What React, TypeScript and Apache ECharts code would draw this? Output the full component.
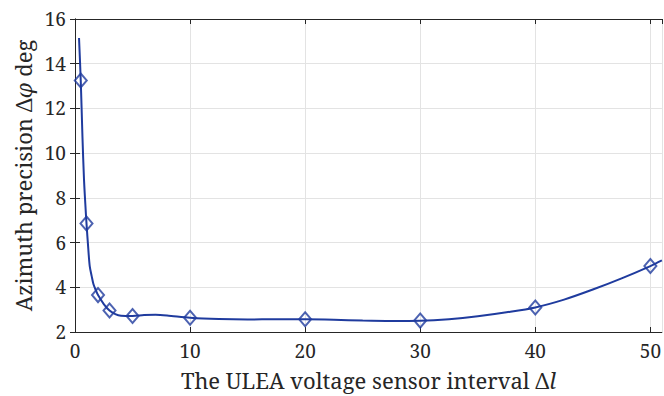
import React, { useEffect, useRef } from "react";
import * as echarts from "echarts";

const markerX = [0.5, 1, 2, 3, 5, 10, 20, 30, 40, 50];
const markerY = [13.25, 6.85, 3.65, 2.96, 2.72, 2.64, 2.57, 2.51, 3.1, 4.95];

const curveX = [0.35, 0.5, 0.65, 0.78, 0.9, 1.0, 1.15, 1.28, 1.45, 1.6, 1.8, 2, 2.5, 3, 3.5, 4, 5, 6, 7, 8, 10, 12.5, 15, 17.5, 20, 22.5, 25, 27.5, 30, 32.5, 35, 37.5, 40, 42.5, 45, 47.5, 50, 51];
const curveY = [15.15, 13.25, 10.7, 8.85, 7.7, 6.85, 5.75, 4.95, 4.5, 4.15, 3.88, 3.65, 3.25, 2.96, 2.8, 2.73, 2.72, 2.76, 2.77, 2.74, 2.64, 2.58, 2.56, 2.57, 2.57, 2.55, 2.51, 2.49, 2.5, 2.57, 2.7, 2.88, 3.1, 3.45, 3.9, 4.4, 4.95, 5.2];

const xTicks = [0, 10, 20, 30, 40, 50];
const yTicks = [2, 4, 6, 8, 10, 12, 14, 16];

const FONT = "Noto Serif";
const AX = "#262626";
const BLUE = "#1f3b9e";

export default function App() {
  const ref = useRef<HTMLDivElement>(null);
  useEffect(() => {
    if (!ref.current) return;
    const chart = echarts.init(ref.current, null, { renderer: "svg" });
    const tickStyle = { show: true, inside: true, length: 5, lineStyle: { color: AX, width: 1 } };
    const grid = { show: true, lineStyle: { color: "#e3e3e3", width: 1 } };
    chart.setOption({
      animation: false,
      backgroundColor: "#fff",
      textStyle: { fontFamily: FONT },
      grid: { left: 75, right: 1, top: 19, bottom: 62, containLabel: false },
      xAxis: [
        {
          type: "value",
          min: 0,
          max: 51,
          interval: 10,
          position: "bottom",
          axisLine: { show: true, lineStyle: { color: AX, width: 1 } },
          axisTick: tickStyle,
          splitLine: grid,
          axisLabel: {
            showMaxLabel: false,
            color: AX,
            fontFamily: FONT,
            fontSize: 19,
            margin: 9,
            formatter: (v: number) => (xTicks.includes(v) ? String(v) : ""),
          },
          name: "The ULEA voltage sensor interval Δ{i|l}",
          nameLocation: "middle",
          nameGap: 37,
          nameTextStyle: {
            color: AX,
            fontFamily: FONT,
            fontSize: 22,
            rich: { i: { fontStyle: "italic", fontFamily: FONT, fontSize: 22, color: AX } },
          },
        },
        {
          type: "value",
          min: 0,
          max: 51,
          interval: 10,
          position: "top",
          axisLine: { show: true, lineStyle: { color: AX, width: 1 } },
          axisTick: tickStyle,
          splitLine: { show: false },
          axisLabel: { show: false },
        },
      ],
      yAxis: [
        {
          type: "value",
          min: 2,
          max: 16,
          interval: 2,
          position: "left",
          axisLine: { show: true, lineStyle: { color: AX, width: 1 } },
          axisTick: tickStyle,
          splitLine: grid,
          axisLabel: {
            color: AX,
            fontFamily: FONT,
            fontSize: 19,
            margin: 9,
            formatter: (v: number) => (yTicks.includes(v) ? String(v) : ""),
          },
          name: "Azimuth precision Δ{i|φ} deg",
          nameLocation: "middle",
          nameGap: 39,
          nameTextStyle: {
            color: AX,
            fontFamily: FONT,
            fontSize: 22,
            rich: { i: { fontStyle: "italic", fontFamily: FONT, fontSize: 22, color: AX } },
          },
        },
        {
          type: "value",
          min: 2,
          max: 16,
          interval: 2,
          position: "right",
          axisLine: { show: true, lineStyle: { color: AX, width: 1 } },
          axisTick: tickStyle,
          splitLine: { show: false },
          axisLabel: { show: false },
        },
      ],
      series: [
        {
          type: "line",
          data: curveX.map((x, i) => [x, curveY[i]]),
          smooth: 0.3,
          showSymbol: false,
          symbol: "none",
          lineStyle: { color: BLUE, width: 2 },
          z: 2,
        },
        {
          type: "scatter",
          data: markerX.map((x, i) => [x, markerY[i]]),
          symbol: "diamond",
          symbolSize: [12, 14],
          itemStyle: { color: "rgba(255,255,255,0)", borderColor: BLUE, borderWidth: 2 },
          z: 3,
        },
      ],
    });
    return () => chart.dispose();
  }, []);
  return <div ref={ref} style={{ width: 664, height: 396, position: "absolute", left: 0, top: 0 }} />;
}
